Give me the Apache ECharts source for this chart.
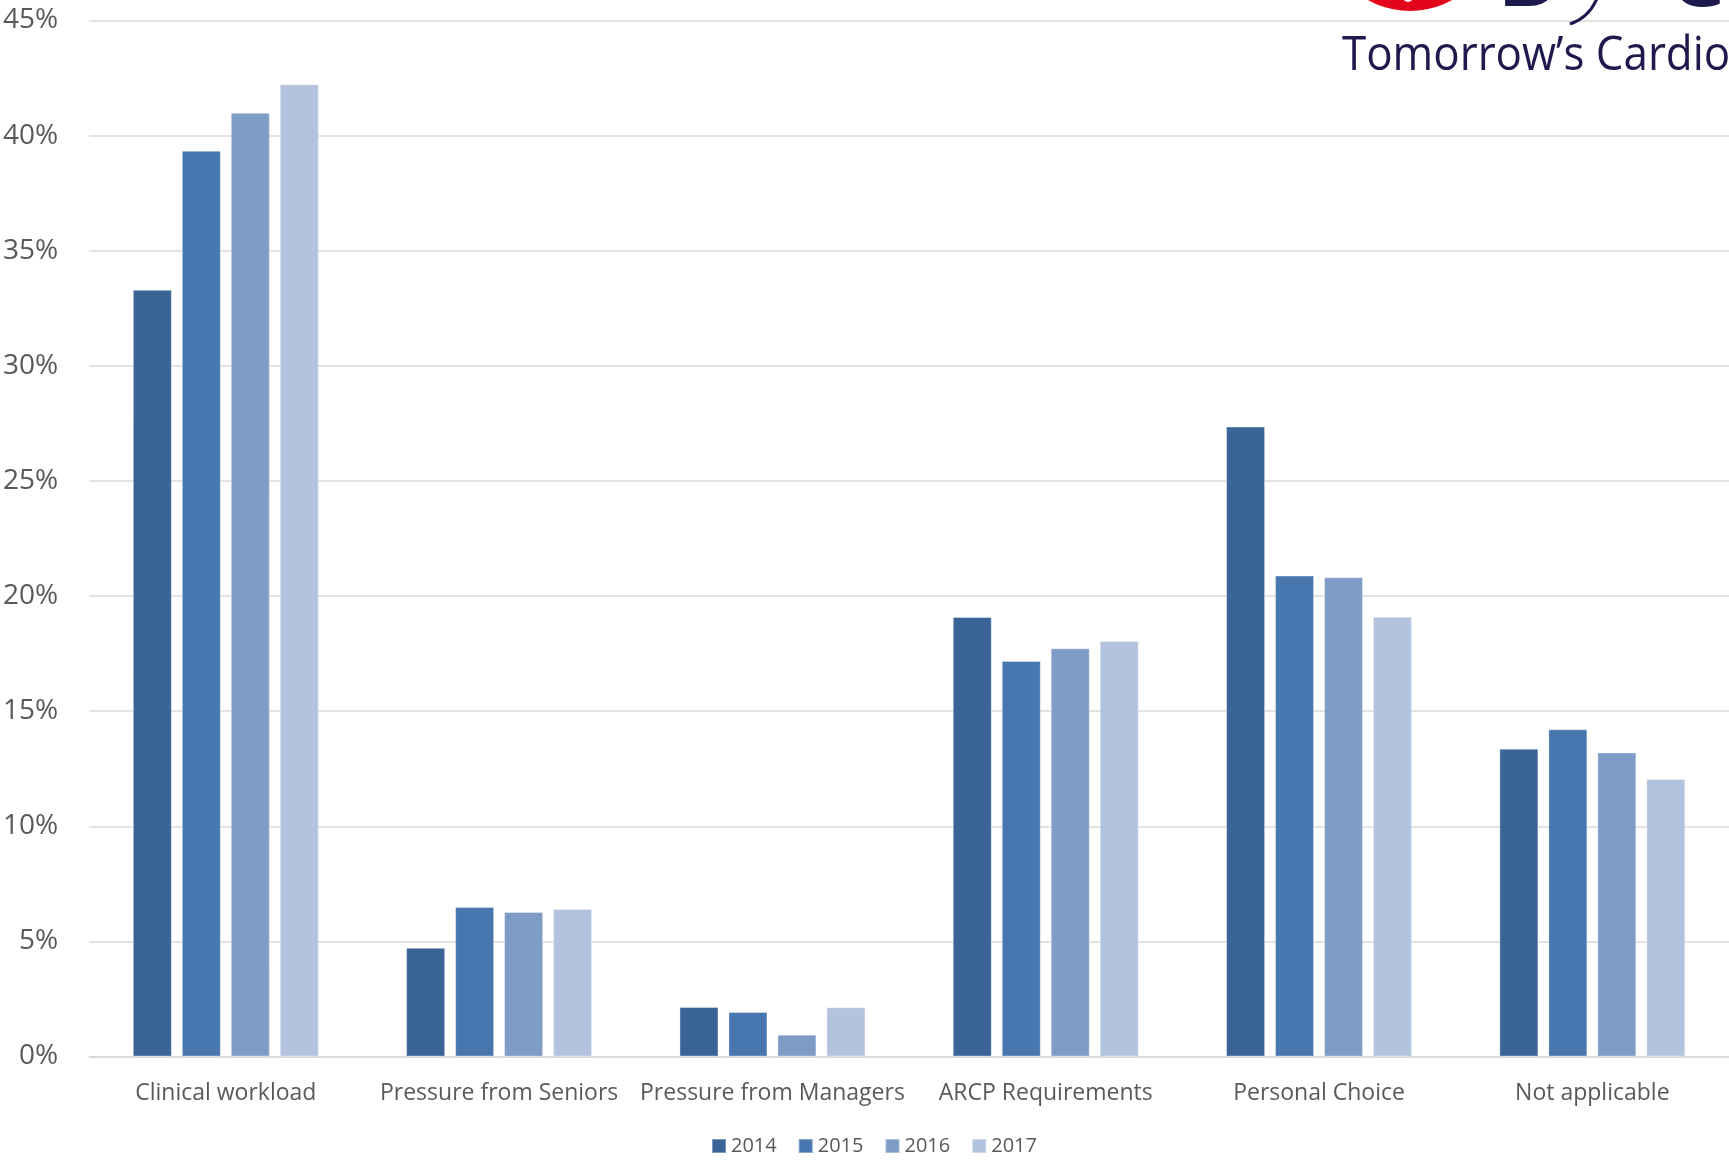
<!DOCTYPE html>
<html>
<head>
<meta charset="utf-8">
<script src="https://cdn.jsdelivr.net/npm/echarts@6/dist/echarts.min.js"></script>
<style>
html,body{margin:0;padding:0;background:#fff;}
#chart{width:1729px;height:1160px;}
</style>
</head>
<body>
<div id="chart"></div>
<script>
const categories = ['Clinical workload','Pressure from Seniors','Pressure from Managers','ARCP Requirements','Personal Choice','Not applicable'];
const years = ['2014','2015','2016','2017'];
const s2014 = [33.3, 4.72, 2.15, 19.09, 27.36, 13.37];
const s2015 = [39.34, 6.49, 1.93, 17.18, 20.89, 14.21];
const s2016 = [40.99, 6.28, 0.95, 17.73, 20.82, 13.21];
const s2017 = [42.23, 6.41, 2.14, 18.05, 19.10, 12.05];
const yTicks = [0, 45, 5];
const colors = ['#3B6496','#4877AF','#7F9CC7','#B4C3DD'];

const seriesData = [s2014, s2015, s2016, s2017];
const FONT = '"Open Sans", sans-serif';
const chart = echarts.init(document.getElementById('chart'), null, {renderer:'canvas'});
chart.setOption({
  backgroundColor:'#ffffff',
  animation:false,
  color: colors,
  textStyle:{fontFamily:FONT},
  grid:{left:88, right:0, top:20.5, bottom:103.5, containLabel:false},
  legend:{
    data: years, left:706, top:1131, itemWidth:14, itemHeight:14, itemGap:21,
    icon:'rect',
    textStyle:{color:'#595959', fontSize:20, fontFamily:FONT}
  },
  xAxis:{
    type:'category', data:categories,
    axisLine:{lineStyle:{color:'#D9D9D9', width:1.5}},
    axisTick:{show:false},
    axisLabel:{color:'#595959', fontSize:23, margin:25, fontFamily:FONT, interval:0}
  },
  yAxis:{
    type:'value', min:yTicks[0], max:yTicks[1], interval:yTicks[2],
    axisLine:{show:false}, axisTick:{show:false},
    axisLabel:{color:'#595959', fontSize:28, margin:31, fontFamily:FONT, formatter:'{value}%', align:'right'},
    splitLine:{lineStyle:{color:'#D9D9D9', width:1.5}}
  },
  series: years.map((y,i)=>({
    name:y, type:'bar', data:seriesData[i], barWidth:39, barGap:'25.6%',
    itemStyle:{color:colors[i], borderColor:'rgba(255,255,255,0.35)', borderWidth:1}
  })),
  graphic:[
    {type:'circle', shape:{cx:1410, cy:-75, r:86}, style:{fill:'#E3051B'}, z:100},
    {type:'circle', shape:{cx:1408, cy:-3, r:5}, style:{fill:'#ffffff'}, z:101},
    {type:'text', x:1497, y:-20, z:100, style:{text:'B', fill:'#1E1A4D', font:'bold 90px "Open Sans"', verticalAlign:'middle'}},
    {type:'text', x:1668, y:-20, z:100, style:{text:'C', fill:'#1E1A4D', font:'bold 90px "Open Sans"', verticalAlign:'middle'}},
    {type:'bezierCurve', z:100, shape:{x1:1598, y1:-4, x2:1570, y2:24, cpx1:1592, cpy1:12, cpx2:1582, cpy2:20}, style:{stroke:'#1E1A4D', lineWidth:3, fill:null}},
    {type:'text', x:1342, y:56, scaleX:0.915, z:100, style:{text:'Tomorrow’s Cardio', fill:'#1E1A4D', font:'48px "Open Sans"', verticalAlign:'middle'}}
  ]
});
</script>
</body>
</html>
